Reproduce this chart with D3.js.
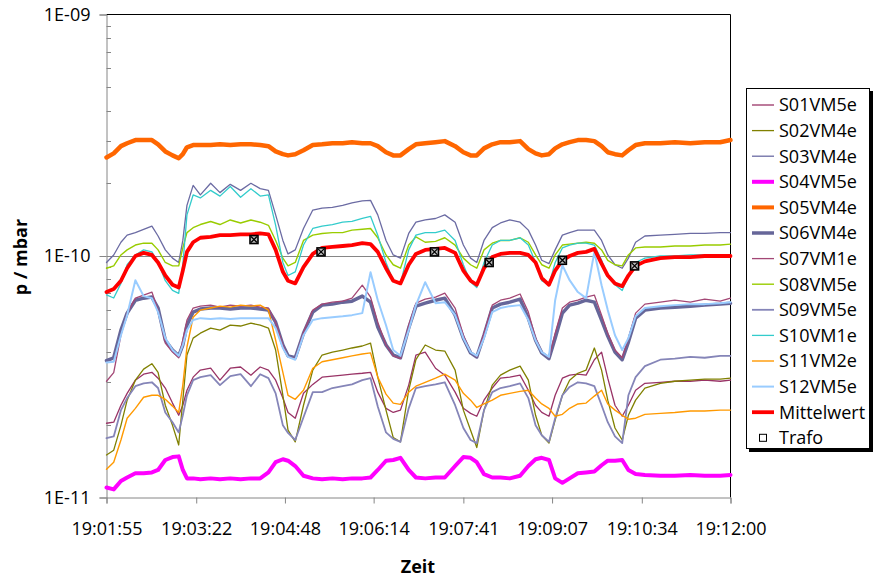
<!DOCTYPE html>
<html><head><meta charset="utf-8">
<script src="https://cdn.jsdelivr.net/npm/d3@7"></script>
<style>
body{margin:0;background:#fff}
svg{display:block}
text{font-family:"Open Sans",sans-serif;fill:#000}
</style>
</head><body>
<svg id="c" width="876" height="581"></svg>
<script>
// ---- data (pressure values in units of 1e-11 mbar) ----
const einheit = 1e-11;
const startZeit = "19:01:55";
const sekunden = [0,7,14,20,28,36,44,50,57,64,70,74,78,84,91,101,110,120,130,140,149,157,164,171,176,183,191,200,209,219,229,238,248,256,263,271,278,285,293,300,309,319,328,338,346,353,359,366,374,382,391,401,409,416,422,429,435,442,449,457,465,473,480,486,493,500,506,513,522,537,551,566,580,595,605];

const S01 = [2.03,2.05,2.41,2.70,3.06,3.24,3.30,3.12,2.84,2.46, 2.19,2.41,2.78,3.15,3.37,3.43,3.06,3.43,3.47,3.21, 3.47,3.37,3.06,2.58,2.25,2.13,2.70,2.94,3.15,3.18, 3.21,3.24,3.27,3.30,2.73,2.34,2.25,2.30,2.92,3.89, 4.00,3.43,3.21,2.73,2.34,2.23,2.17,2.53,2.84,3.12, 3.15,3.21,2.78,2.41,2.25,2.17,2.65,3.12,3.21,3.24, 3.21,3.72,4.00,3.12,2.41,2.17,2.41,2.78,2.97,3.00, 3.03,3.03,3.06,3.03,3.06];
const S02 = [1.50,1.57,1.99,2.53,3.06,3.40,3.58,3.30,2.41,1.99, 1.65,2.53,3.89,4.57,4.79,5.03,4.93,5.17,5.13,5.27, 5.17,5.03,4.08,2.65,1.90,1.70,2.41,3.37,3.89,4.00, 4.08,4.16,4.24,4.36,3.15,2.30,1.77,1.70,2.78,3.72, 4.28,4.08,4.04,3.37,2.30,1.90,1.61,2.30,2.92,3.21, 3.37,3.50,3.06,2.19,1.81,1.68,2.09,2.65,3.06,3.27, 3.37,4.16,3.37,2.53,1.94,1.73,2.19,2.53,2.84,2.97, 3.03,3.06,3.09,3.09,3.12];
const S03 = [9.4,10.1,11.4,12.2,12.5,12.9,13.3,12.1,10.6,9.8, 9.4,11.6,16.2,19.6,17.9,20.0,18.3,19.8,18.7,20.0, 19.0,18.7,14.8,11.6,10.2,10.6,13.0,15.5,15.8,15.9, 16.2,16.6,16.9,17.0,14.8,11.6,10.1,9.8,12.4,13.8, 14.1,14.3,14.8,13.8,11.1,9.8,9.4,11.6,13.1,13.7, 14.1,13.8,12.8,11.1,9.6,9.3,10.6,12.2,12.5,12.8, 12.8,12.8,11.6,10.1,9.2,8.9,9.8,11.4,12.1,12.2, 12.3,12.4,12.4,12.5,12.5];
const S04 = [1.10,1.08,1.17,1.21,1.26,1.26,1.27,1.30,1.43,1.47, 1.48,1.30,1.20,1.20,1.19,1.20,1.19,1.20,1.19,1.20, 1.20,1.27,1.40,1.44,1.42,1.35,1.23,1.20,1.19,1.20, 1.19,1.20,1.20,1.21,1.30,1.42,1.43,1.46,1.30,1.21, 1.20,1.21,1.21,1.35,1.47,1.46,1.40,1.25,1.21,1.21, 1.20,1.23,1.35,1.44,1.46,1.43,1.20,1.15,1.20,1.26, 1.27,1.28,1.36,1.42,1.42,1.43,1.30,1.25,1.24,1.23, 1.23,1.24,1.23,1.23,1.24];
const S05 = [25.6,26.6,28.5,29.3,30.2,30.2,30.2,29.0,27.1,26.1, 25.4,26.4,28.2,28.8,28.8,28.8,29.0,28.8,29.0,29.0, 28.8,28.5,27.1,26.4,26.1,26.4,27.4,28.8,29.0,29.3, 29.3,29.6,29.3,29.3,28.5,26.9,26.1,26.1,27.7,29.0, 29.3,29.6,29.9,28.5,26.9,26.1,26.1,27.9,29.0,29.6, 29.6,29.9,27.7,26.6,26.1,26.4,27.9,29.0,29.6,30.2, 30.2,29.9,28.5,26.9,26.4,26.1,27.4,28.8,29.3,29.3, 29.6,29.3,29.6,29.6,30.2];
const S06 = [3.69,3.79,4.93,5.80,6.56,6.69,6.76,6.09,4.48,4.08, 3.86,4.28,5.17,5.86,6.03,6.09,6.09,6.03,6.09,6.09, 6.03,5.97,5.32,4.28,3.86,3.79,4.79,5.86,6.26,6.32, 6.44,6.50,6.82,6.44,5.08,4.28,3.89,3.79,5.03,6.20, 6.38,6.56,6.69,5.69,4.57,3.97,3.82,4.70,6.09,6.32, 6.44,6.63,5.53,4.48,3.97,3.76,4.57,5.80,6.26,6.38, 6.56,6.44,5.43,4.66,4.00,3.72,4.40,5.53,5.97,6.09, 6.14,6.20,6.26,6.32,6.38];
const S07 = [3.03,3.29,4.70,5.80,6.69,6.89,7.09,5.97,4.36,4.00, 3.79,4.48,5.43,6.09,6.20,6.26,6.14,6.26,6.20,6.26, 6.14,6.09,5.32,4.28,3.82,3.76,4.84,5.97,6.32,6.44, 6.50,6.69,7.57,6.76,5.32,4.28,3.86,3.76,5.17,6.38, 6.63,6.76,7.02,6.09,4.70,4.00,3.82,4.79,6.26,6.56, 6.69,6.96,5.86,4.57,4.00,3.79,4.79,6.09,6.44,6.56, 6.76,6.89,5.69,4.79,4.08,3.79,4.57,5.80,6.32,6.44, 6.56,6.44,6.63,6.50,6.69];
const S08 = [8.9,9.1,10.1,10.6,11.1,11.3,11.3,10.6,9.4,9.1, 9.1,10.8,12.5,13.1,13.5,13.9,13.5,14.1,13.7,14.1, 13.8,13.4,11.6,9.8,9.1,9.4,11.6,12.2,12.4,12.5, 12.5,12.8,12.9,13.0,11.9,10.1,9.2,8.9,11.1,12.0, 11.4,11.5,11.9,11.1,9.8,9.2,8.9,10.6,11.3,11.6, 11.6,11.9,11.4,10.1,9.2,8.9,10.1,11.1,11.2,11.3, 11.4,11.3,10.6,9.6,9.2,9.1,10.1,10.8,10.9,10.9, 11.0,11.0,11.1,11.1,11.2];
const S09 = [1.76,1.79,2.30,2.58,2.89,2.97,3.00,2.84,2.25,2.05, 1.86,2.19,2.65,3.06,3.15,3.21,2.92,3.18,3.24,2.89, 3.24,3.12,2.70,1.99,1.85,1.73,2.15,2.73,2.73,2.84, 2.89,2.94,3.06,3.12,2.38,1.86,1.75,1.70,2.34,2.84, 2.89,2.94,3.00,2.41,1.94,1.73,1.68,2.30,2.73,2.84, 2.89,2.97,2.58,1.99,1.81,1.70,2.13,2.65,2.87,3.00, 2.97,2.89,2.41,2.05,1.79,1.68,2.65,3.15,3.50,3.72, 3.76,3.82,3.79,3.86,3.86];
const S10 = [6.9,6.7,7.7,9.2,10.1,10.6,10.4,9.4,7.9,7.2, 7.0,9.2,14.8,17.9,17.4,18.7,17.7,19.4,17.5,19.0, 17.7,17.9,13.4,9.4,8.3,8.6,11.1,13.0,13.3,13.5, 13.8,13.9,14.3,14.6,12.2,9.4,7.9,7.7,10.6,12.2, 12.5,12.5,12.8,11.6,9.2,7.8,7.4,9.4,11.1,11.6, 11.6,11.9,11.1,9.4,7.9,7.6,9.4,10.8,11.1,11.3, 11.3,11.1,9.6,8.3,7.6,7.2,8.3,9.4,9.8,10.0, 10.0,10.1,10.1,10.1,10.1];
const S11 = [1.31,1.40,1.73,2.13,2.34,2.60,2.65,2.65,2.55,2.39, 2.25,2.92,4.20,5.58,5.97,6.09,6.20,6.14,6.26,6.20, 6.26,5.97,4.48,3.30,2.65,2.55,2.78,3.43,3.65,3.72, 3.79,3.86,3.93,3.97,3.15,2.68,2.46,2.43,2.73,2.89, 3.00,3.12,3.24,3.06,2.70,2.53,2.36,2.44,2.53,2.65, 2.70,2.75,2.78,2.58,2.44,2.34,2.17,2.21,2.34,2.44, 2.46,2.63,2.78,2.44,2.30,2.19,2.11,2.13,2.21,2.23, 2.25,2.28,2.28,2.30,2.30];
const S12 = [3.62,3.65,4.70,5.69,7.94,6.82,6.69,5.86,4.57,4.08, 3.86,4.28,4.93,5.43,5.53,5.48,5.53,5.48,5.53,5.53, 5.53,5.53,5.03,4.16,3.82,3.72,4.70,5.43,5.53,5.58, 5.63,5.69,5.80,8.56,6.56,5.17,4.08,3.86,4.93,6.26, 7.79,6.38,6.44,5.69,4.57,4.00,3.86,4.57,5.86,6.09, 6.20,6.26,5.43,4.48,4.00,3.82,6.56,9.16,7.94,7.09, 6.69,10.4,7.57,5.97,4.70,4.08,4.57,5.63,6.09,6.20, 6.26,6.32,6.32,6.38,6.44];
const Mittelwert = [7.1,7.3,7.9,8.9,10.0,10.3,10.1,9.4,8.3,7.6, 7.4,8.7,10.4,11.4,11.9,12.0,12.2,12.2,12.3,12.3, 12.4,12.3,10.6,8.6,7.9,7.7,9.0,10.2,10.8,10.9, 11.0,11.1,11.3,11.2,10.4,8.9,7.9,7.7,9.2,10.2, 10.6,10.7,10.8,10.3,8.7,7.9,7.6,8.9,9.9,10.2, 10.3,10.3,10.1,9.4,8.1,7.6,8.7,9.6,10.0,10.3, 10.4,10.7,9.3,8.3,7.7,7.5,8.3,9.1,9.5,9.8, 9.9,9.9,10.0,10.0,10.0];
const trafoSekunden = [143, 208, 318, 371, 442, 512];
const trafoWerte = [11.7, 10.4, 10.4, 9.4, 9.6, 9.1];

const xTickLabels = ["19:01:55","19:03:22","19:04:48","19:06:14","19:07:41","19:09:07","19:10:34","19:12:00"];
const yTickWerte = [1e-11, 1e-10, 1e-9];
const yTickLabels = ["1E-11","1E-10","1E-09"];
const serienNamen = ["S01VM5e","S02VM4e","S03VM4e","S04VM5e","S05VM4e","S06VM4e","S07VM1e","S08VM5e","S09VM5e","S10VM1e","S11VM2e","S12VM5e","Mittelwert"];
const serienWerte = [S01,S02,S03,S04,S05,S06,S07,S08,S09,S10,S11,S12,Mittelwert];

// ---- styles ----
const farben = ["#993366","#808000","#6B6BA3","#FF00FF","#FF6600","#666699","#A34775","#99CC00","#8585B8","#33CCCC","#FF9900","#99CCFF","#FF0000"];
const breiten = [1.3,1.3,1.3,4,4.5,3.5,1.3,1.4,1.8,1.3,1.4,2,3.8];

// ---- drawing ----
const svg = d3.select("#c");
const L = 106.5, R = 730.5, T = 14.5, B = 497.5;
const toSec = s => { const p = s.split(":").map(Number); return p[0]*3600+p[1]*60+p[2]; };
const t0 = toSec(startZeit);
const basis = new Date(2000,0,1,0,0,0).getTime();
const toDate = sec => new Date(basis + (t0 + sec)*1000);
const tickDates = xTickLabels.map(l => toDate(toSec(l) - t0));

const x = d3.scaleTime().domain([tickDates[0], tickDates[tickDates.length-1]]).range([L, R]);
const y = d3.scaleLog().domain([1e-11, 1e-9]).range([B, T]);

// gridline at 1E-10
svg.append("line").attr("x1",L).attr("x2",R).attr("y1",Math.round(y(1e-10))+0.5).attr("y2",Math.round(y(1e-10))+0.5)
  .attr("stroke","#868686").attr("stroke-width",1);

// plot border (top/right)
svg.append("path").attr("d",`M${L},${T}H${R}V${B}`).attr("fill","none").attr("stroke","#000").attr("stroke-width",1);

// minor ticks (inside)
const minor = [];
[1e-11,1e-10].forEach(d => { for (let k=2;k<=9;k++) minor.push(k*d); });
svg.append("g").selectAll("line").data(minor).join("line")
  .attr("x1",L).attr("x2",L+4.5)
  .attr("y1",d=>Math.round(y(d))+0.5).attr("y2",d=>Math.round(y(d))+0.5)
  .attr("stroke","#868686");

// y axis
const yAxis = d3.axisLeft(y).tickValues(yTickWerte).tickFormat((d,i)=>yTickLabels[i]).tickSize(7).tickPadding(9);
const gy = svg.append("g").attr("transform",`translate(${L},0)`).call(yAxis);
gy.select(".domain").attr("stroke","#868686");
gy.selectAll(".tick line").attr("stroke","#868686");
gy.selectAll(".tick text").attr("font-size","18px").attr("font-family","Open Sans").attr("fill","#000");

// x axis
const xAxis = d3.axisBottom(x).tickValues(tickDates).tickFormat((d,i)=>xTickLabels[i]).tickSize(6).tickPadding(19);
const gx = svg.append("g").attr("transform",`translate(0,${B})`).call(xAxis);
gx.select(".domain").attr("stroke","#868686");
gx.selectAll(".tick line").attr("stroke","#868686");
gx.selectAll(".tick text").attr("font-size","18px").attr("font-family","Open Sans").attr("fill","#000");

// axis titles
svg.append("text").attr("x",418).attr("y",573).attr("text-anchor","middle")
  .attr("font-size","18px").attr("font-weight","bold").text("Zeit");
svg.append("text").attr("transform","translate(27,257) rotate(-90)").attr("text-anchor","middle")
  .attr("font-size","18px").attr("font-weight","bold").text("p / mbar");

// series
const line = d3.line().x((d,i)=>x(toDate(sekunden[i]))).y(d=>y(d*einheit));
const gS = svg.append("g");
serienWerte.forEach((werte,k) => {
  gS.append("path").datum(werte).attr("d",line).attr("fill","none")
    .attr("stroke",farben[k]).attr("stroke-width",breiten[k])
    .attr("stroke-linejoin","round").attr("stroke-linecap","round");
});

// Trafo markers
const gT = svg.append("g");
trafoSekunden.forEach((s,i) => {
  const cx = x(toDate(s)), cy = y(trafoWerte[i]*einheit);
  gT.append("rect").attr("x",cx-4).attr("y",cy-4).attr("width",8).attr("height",8)
    .attr("fill","#bbb").attr("stroke","#000").attr("stroke-width",1.6);
  gT.append("path").attr("d",`M${cx-3},${cy-3}L${cx+3},${cy+3}M${cx+3},${cy-3}L${cx-3},${cy+3}`)
    .attr("stroke","#000").attr("stroke-width",1.3);
});

// legend
const lg = svg.append("g");
lg.append("rect").attr("x",749).attr("y",91).attr("width",124).attr("height",361).attr("fill","#000");
lg.append("rect").attr("x",746.5).attr("y",88.5).attr("width",123).attr("height",360).attr("fill","#fff").attr("stroke","#000").attr("stroke-width",1);
const eintraege = serienNamen.concat(["Trafo"]);
eintraege.forEach((n,i) => {
  const cy = 105 + i*25.6;
  if (i < serienNamen.length) {
    lg.append("line").attr("x1",752).attr("x2",774).attr("y1",cy).attr("y2",cy)
      .attr("stroke",farben[i]).attr("stroke-width",Math.min(breiten[i],4));
  } else {
    lg.append("rect").attr("x",759.5).attr("y",cy-3.5).attr("width",7).attr("height",7)
      .attr("fill","#fff").attr("stroke","#000").attr("stroke-width",1);
  }
  lg.append("text").attr("x",779).attr("y",cy).attr("dy","0.35em").attr("font-size","18px").text(n);
});
</script>
</body></html>
